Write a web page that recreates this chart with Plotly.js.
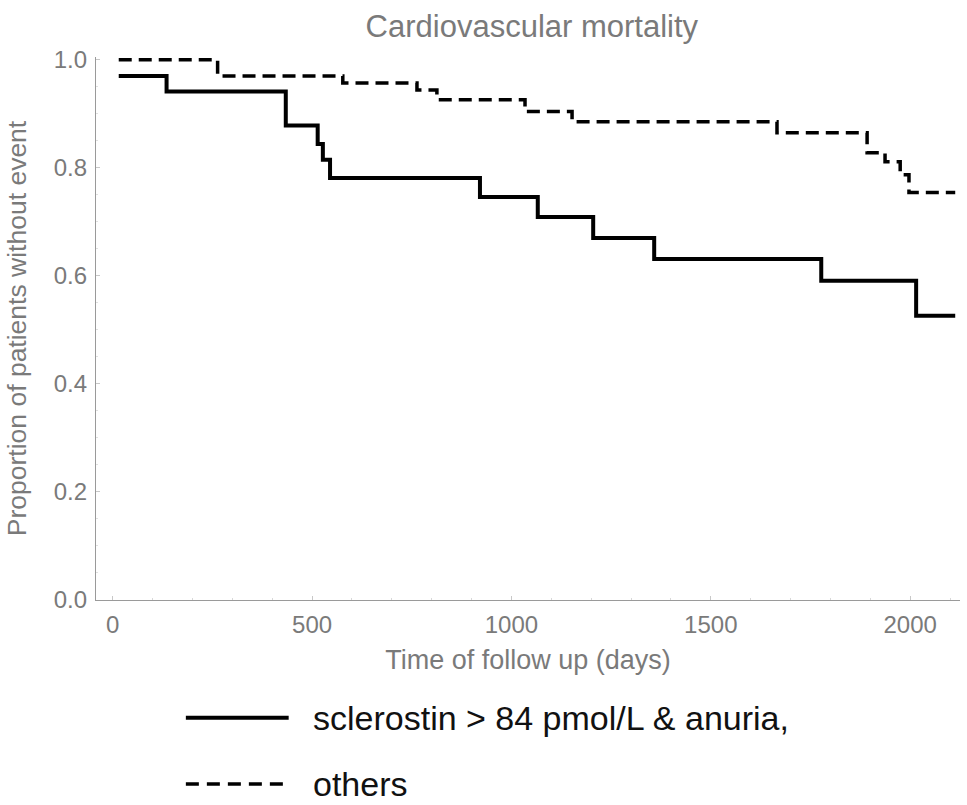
<!DOCTYPE html>
<html>
<head>
<meta charset="utf-8">
<script src="https://cdn.plot.ly/plotly-3.0.1.min.js"></script>
<style>html,body{margin:0;padding:0;background:#fff;}#chart{width:967px;height:805px;}</style>
</head>
<body>
<div id="chart"></div>
<script>
// Data
const chartTitle = "Cardiovascular mortality";
const xTitle = "Time of follow up (days)";
const yTitle = "Proportion of patients without event";
const seriesNames = ["sclerostin > 84 pmol/L & anuria,", "others"];

const solidDays = [15, 135, 434, 514, 527, 545, 921, 1066, 1205, 1358, 1777, 2015, 2113];
const solidSurv = [0.970, 0.941, 0.878, 0.844, 0.815, 0.781, 0.746, 0.709, 0.670, 0.631, 0.591, 0.526, 0.526];

const dashDays = [15, 263, 577, 763, 813, 1034, 1152, 1666, 1892, 1937, 1975, 1997, 2113];
const dashSurv = [1.0, 0.970, 0.957, 0.944, 0.926, 0.904, 0.885, 0.865, 0.828, 0.811, 0.787, 0.754, 0.754];

const xTicks = [0, 500, 1000, 1500, 2000];
const yTicks = [0, 0.2, 0.4, 0.6, 0.8, 1.0];

const gray = "#7a7a7a";
const baseFont = "Liberation Sans, Arial, sans-serif";

const traces = [
  {x: solidDays, y: solidSurv, name: seriesNames[0], type: "scatter", mode: "lines",
   line: {shape: "hv", color: "#000", width: 4}, showlegend: false},
  {x: dashDays, y: dashSurv, name: seriesNames[1], type: "scatter", mode: "lines",
   line: {shape: "hv", color: "#000", width: 3.5, dash: "13px,7px"}, showlegend: false}
];

// Legend drawn below the plot (long line samples as in the reference)
const legendRows = [
  {y: -0.2167, dash: "solid", width: 4},
  {y: -0.339, dash: "13px,8px", width: 3.5}
];
const shapes = legendRows.map(r => ({
  type: "line", xref: "paper", yref: "paper", x0: 0.104, x1: 0.223, y0: r.y, y1: r.y,
  line: {color: "#000", width: r.width, dash: r.dash}
}));
const annotations = legendRows.map((r, i) => ({
  xref: "paper", yref: "paper", x: 0.249, y: r.y, xanchor: "left", yanchor: "middle",
  text: seriesNames[i], showarrow: false, font: {family: baseFont, size: 34, color: "#111"}
}));

const layout = {
  width: 967, height: 805,
  margin: {l: 96, r: 7, t: 57, b: 205},
  paper_bgcolor: "#fff", plot_bgcolor: "#fff",
  showlegend: false,
  title: {text: chartTitle, x: 0.55, xanchor: "center", y: 0.968, yanchor: "middle",
          font: {family: baseFont, size: 31, color: gray}},
  xaxis: {
    range: [-42, 2125], showgrid: false, zeroline: false,
    showline: true, linecolor: "#9a9a9a", linewidth: 1.2,
    tickmode: "array", tickvals: xTicks, ticktext: xTicks.map(String),
    ticks: "inside", ticklen: 4, tickcolor: "#c8c8c8",
    minor: {dtick: 100, ticks: "inside", ticklen: 2, tickcolor: "#d8d8d8"},
    tickfont: {family: baseFont, size: 24, color: gray},
    ticklabelstandoff: 3,
    title: {text: xTitle, font: {family: baseFont, size: 27, color: gray}, standoff: 13}
  },
  yaxis: {
    range: [0, 1.005], showgrid: false, zeroline: false,
    showline: true, linecolor: "#9a9a9a", linewidth: 1.2,
    tickmode: "array", tickvals: yTicks, ticktext: yTicks.map(v => v.toFixed(1)),
    ticks: "inside", ticklen: 4, tickcolor: "#c8c8c8",
    minor: {dtick: 0.05, ticks: "inside", ticklen: 2, tickcolor: "#e0e0e0"},
    tickfont: {family: baseFont, size: 24, color: gray},
    ticklabelstandoff: 3,
    title: {text: yTitle, font: {family: baseFont, size: 26.5, color: gray}, standoff: 19}
  },
  shapes: shapes,
  annotations: annotations
};

Plotly.newPlot("chart", traces, layout, {displayModeBar: false, staticPlot: true});
</script>
</body>
</html>
